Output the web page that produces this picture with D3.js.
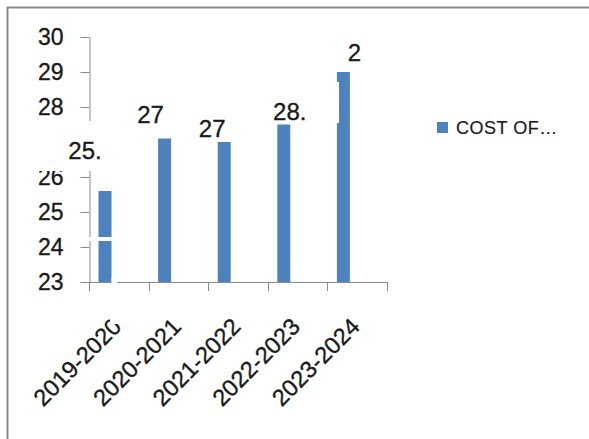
<!DOCTYPE html>
<html>
<head>
<meta charset="utf-8">
<script src="https://cdn.jsdelivr.net/npm/d3@7"></script>
<style>
  html, body { margin: 0; padding: 0; background: #fff; }
  svg { display: block; font-family: "Liberation Sans", Arial, sans-serif; }
  svg text { stroke: #1a1a1a; stroke-width: 0.35px; }
</style>
</head>
<body>
<svg id="chart" width="589" height="439"></svg>
<script>
// data
const years = ['2019-2020', '2020-2021', '2021-2022', '2022-2023', '2023-2024']
const costs = [25.6, 27.1, 27.0, 27.5, 29.0]
// the labels come out clipped in the original export
const costLabels = ['25.', '27', '27', '28.', '2']
const yTicks = [23, 24, 25, 26, 27, 28, 29, 30]
const seriesName = 'COST OF…'

const barColor = '#4f81bd'
const axisColor = '#8a8a8a'
const textColor = '#1a1a1a'

// label nudges (dx from bar centre, dy from bar top) to match the odd placement
const labelNudge = [[-20, -32], [-14, -16], [-12, -5], [6, -5], [11, -11]]

const svg = d3.select('#chart')

// chart frame: only the left and top edges sit inside the window
svg.append('rect')
    .attr('x', 7.5).attr('y', 7.5)
    .attr('width', 620).attr('height', 460)
    .attr('fill', 'none')
    .attr('stroke', axisColor)
    .attr('stroke-width', 2)

const x = d3.scaleBand()
    .domain(years)
    .range([89, 387])
    .padding(0)

const y = d3.scaleLinear()
    .domain([23, 30])
    .range([282, 37])

const barW = 13
const barOffset = 9.5

// y axis
const yAxis = svg.append('g')
    .attr('transform', 'translate(89.5,0)')
    .call(d3.axisLeft(y)
        .tickValues(yTicks)
        .tickFormat(d3.format('d'))
        .tickSize(9).tickSizeOuter(0).tickPadding(17))
yAxis.select('.domain').attr('stroke', axisColor)
yAxis.selectAll('.tick line').attr('stroke', axisColor)
yAxis.selectAll('.tick text')
    .attr('fill', textColor)
    .style('font-size', '23px')

// x axis line and tick marks on band edges
const xAxis = svg.append('g')
xAxis.append('line')
    .attr('x1', x.range()[0]).attr('x2', x.range()[1])
    .attr('y1', y(23) + 0.5).attr('y2', y(23) + 0.5)
    .attr('stroke', axisColor)
const edges = years.map(d => x(d)).concat([x.range()[1]])
xAxis.selectAll('line.edge')
    .data(edges)
    .join('line')
    .classed('edge', true)
    .attr('x1', d => Math.round(d) + 0.5).attr('x2', d => Math.round(d) + 0.5)
    .attr('y1', y(23)).attr('y2', y(23) + 9)
    .attr('stroke', axisColor)

xAxis.selectAll('text.cat')
    .data(years)
    .join('text')
    .classed('cat', true)
    .attr('transform', d => `translate(${x(d) + x.bandwidth() / 2 + 4}, 328) rotate(-45)`)
    .attr('text-anchor', 'end')
    .attr('fill', textColor)
    .style('font-size', '23.5px')
    .text(d => d)

// bars
svg.selectAll('rect.bar')
    .data(costs)
    .join('rect')
    .classed('bar', true)
    .attr('x', (d, i) => x(years[i]) + barOffset)
    .attr('y', d => y(d))
    .attr('width', barW)
    .attr('height', d => y(23) - y(d))
    .attr('fill', barColor)

// opaque label boxes / gaps seen in the original
const masks = [
    [37.5, 121, 64, 50],
    [86, 237, 27, 4],
    [111.5, 278, 5.5, 8],
    [110, 300, 18, 24],
    [333, 82, 6, 41]
]
svg.selectAll('rect.mask')
    .data(masks)
    .join('rect')
    .classed('mask', true)
    .attr('x', d => d[0]).attr('y', d => d[1])
    .attr('width', d => d[2]).attr('height', d => d[3])
    .attr('fill', '#fff')

// data labels
svg.selectAll('text.val')
    .data(costs)
    .join('text')
    .classed('val', true)
    .attr('x', (d, i) => x(years[i]) + barOffset + barW / 2 + labelNudge[i][0])
    .attr('y', (d, i) => y(d) + labelNudge[i][1])
    .attr('text-anchor', 'middle')
    .attr('fill', textColor)
    .style('font-size', '24px')
    .text((d, i) => costLabels[i])

// legend
const legend = svg.append('g').attr('transform', 'translate(437,122)')
legend.append('rect')
    .attr('width', 11).attr('height', 11)
    .attr('fill', barColor)
legend.append('text')
    .attr('x', 19).attr('y', 12)
    .attr('fill', textColor)
    .style('font-size', '18px')
    .style('letter-spacing', '0.5px')
    .style('stroke-width', '0.2px')
    .text(seriesName)
</script>
</body>
</html>
